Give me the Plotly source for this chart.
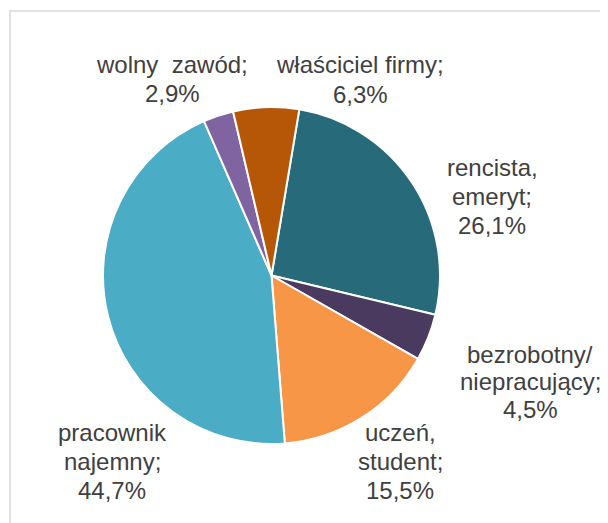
import plotly.graph_objects as go

W, H = 600, 515   # figure sits 8px inside the page (body margin)
OFF = 8

labels = ["rencista,|emeryt", "bezrobotny/|niepracujący", "uczeń,|student",
          "pracownik|najemny", "wolny  zawód", "właściciel firmy"]
values = [26.1, 4.5, 15.5, 44.7, 2.9, 6.3]
colors = ["#276B7B", "#4A3A60", "#F79646", "#4BACC6", "#8064A2", "#B65708"]

# label block: centre x and per-line middle y in page pixels (layout only)
label_x = [492, 530, 400, 112, 172, 360]
label_y = [[167, 196, 225], [354, 381, 409], [432, 461, 490], [432, 461, 490],
           [64, 93], [64, 94]]


def px(x):
    return (x - OFF) / W


def py(y):
    return 1 - (y - OFF) / H


fig = go.Figure(go.Pie(
    labels=[l.replace("|", " ") for l in labels], values=values, sort=False,
    direction="clockwise", rotation=9.5,
    marker=dict(colors=colors, line=dict(color="white", width=2)),
    textinfo="none", hoverinfo="label+percent", showlegend=False,
    domain=dict(x=[px(103), px(440)], y=[py(446), py(105)]),
))

annotations = []
for lab, val, x, ys in zip(labels, values, label_x, label_y):
    lines = lab.split("|")
    lines[-1] += ";"
    lines.append(f"{val:.1f}%".replace(".", ","))
    for line, y in zip(lines, ys):
        annotations.append(dict(
            text=line, x=px(x), y=py(y), xref="paper", yref="paper",
            xanchor="center", yanchor="middle", showarrow=False,
            font=dict(family="Liberation Sans, Arial, sans-serif", size=24, color="#404040"),
        ))

fig.update_layout(
    width=W, height=H, margin=dict(l=0, r=0, t=0, b=0),
    paper_bgcolor="white", plot_bgcolor="white",
    annotations=annotations,
    shapes=[dict(type="rect", xref="paper", yref="paper",
                 x0=px(10), x1=1.05, y0=-0.05, y1=py(11),
                 line=dict(color="#D9D9D9", width=1.5))],
)

fig.write_html("out.html")
